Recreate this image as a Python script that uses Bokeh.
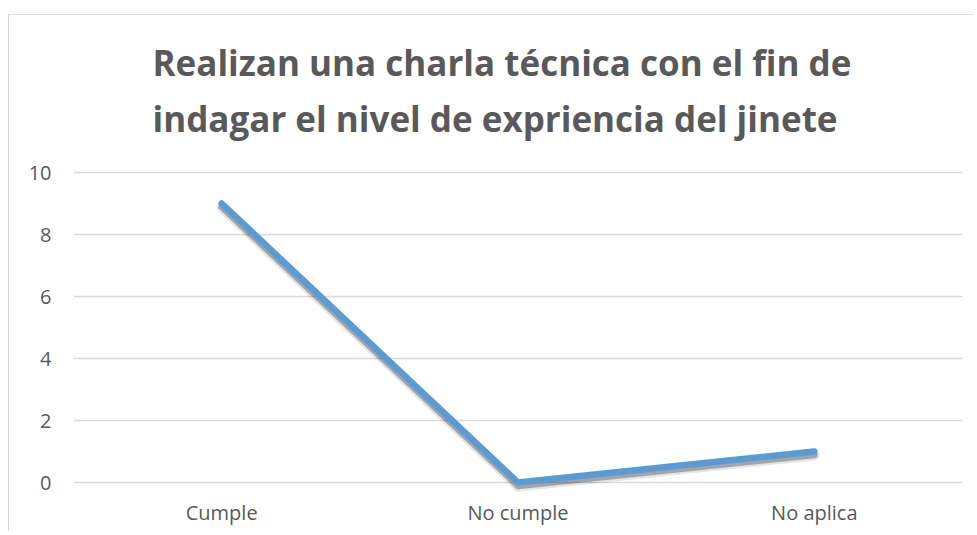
from bokeh.plotting import figure
from bokeh.models import ColumnDataSource, Range1d, FactorRange, Title, FixedTicker
from bokeh.transform import dodge
from bokeh.embed import file_html
from bokeh.resources import INLINE

categories = ["Cumple", "No cumple", "No aplica"]
values = [9, 0, 1]
y_ticks = [0, 2, 4, 6, 8, 10]
title_lines = ["Realizan una charla técnica con el fin de",
               "indagar el nivel de expriencia del jinete"]

FONT = "Open Sans"
GRAY = "#595959"
GRID = "#d9d9d9"

src = ColumnDataSource(data=dict(x=categories, y=values))

pad = 10 / 31
p = figure(x_range=FactorRange(*categories), y_range=Range1d(-pad, 10 + pad),
           width=966, height=517, output_backend="svg", toolbar_location=None,
           min_border_left=64, min_border_right=13, min_border_top=147,
           min_border_bottom=40)
p.styles = {"margin-left": "8px", "margin-top": "14px",
            "border-top": "1px solid #d9d9d9", "border-left": "1px solid #d9d9d9"}
p.outline_line_color = None
p.background_fill_color = "white"
p.border_fill_color = "white"

p.add_layout(Title(text="\n".join(title_lines), align="left", offset=79,
                   text_font=FONT, text_font_size="35px", text_font_style="bold",
                   text_color=GRAY, text_line_height=1.2, standoff=40), "above")

# axes
p.yaxis.ticker = FixedTicker(ticks=y_ticks)
p.yaxis.axis_line_color = None
p.yaxis.major_tick_line_color = None
p.yaxis.minor_tick_line_color = None
p.yaxis.major_label_text_font = FONT
p.yaxis.major_label_text_font_size = "20px"
p.yaxis.major_label_text_color = GRAY
p.yaxis.major_label_standoff = 16

p.xaxis.axis_line_color = None
p.xaxis.major_tick_line_color = None
p.xaxis.minor_tick_line_color = None
p.xaxis.major_label_text_font = FONT
p.xaxis.major_label_text_font_size = "20px"
p.xaxis.major_label_text_color = GRAY
p.xaxis.major_label_standoff = 0

p.xgrid.grid_line_color = None
p.ygrid.grid_line_color = GRID
p.ygrid.grid_line_width = 1.5

# soft shadow under the line
p.line(x="x", y=dodge("y", -0.13, range=p.y_range),
       source=src, line_color="black", line_alpha=0.10, line_width=10,
       line_cap="round", line_join="round")
p.line(x="x", y=dodge("y", -0.11, range=p.y_range),
       source=src, line_color="black", line_alpha=0.28, line_width=6.5,
       line_cap="round", line_join="round")
# main line
p.line(x="x", y="y", source=src, line_color="#5b9bd5", line_width=6.5,
       line_cap="round", line_join="round")

open("out.html", "w").write(file_html(p, INLINE))
